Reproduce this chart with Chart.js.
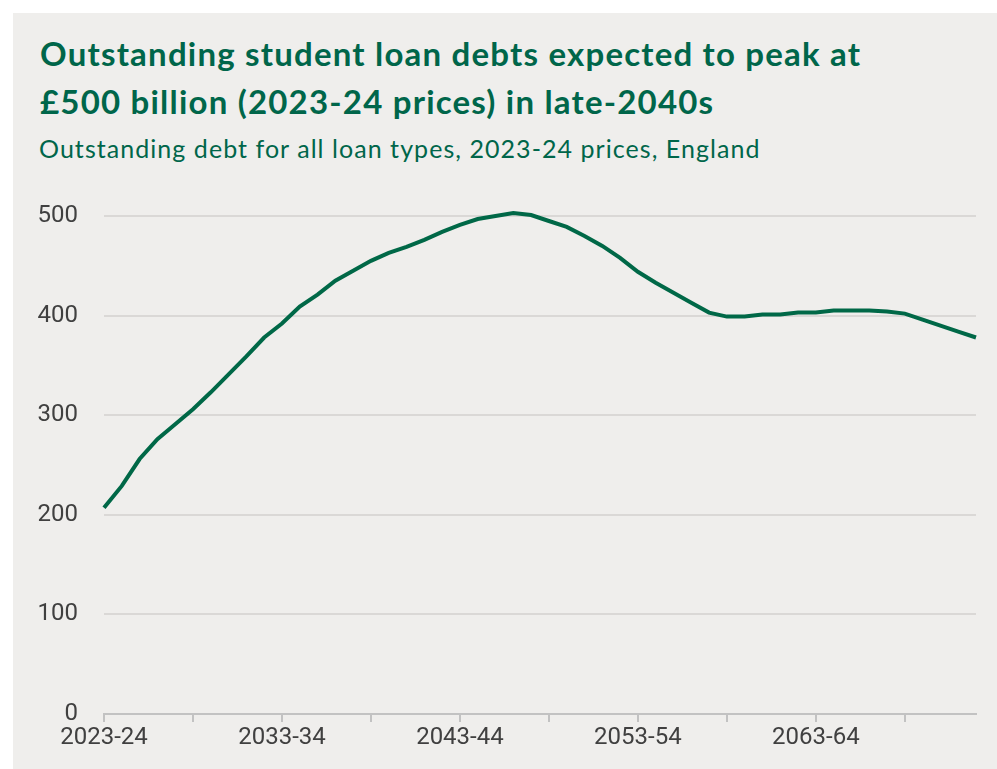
<!DOCTYPE html>
<html>
<head>
<meta charset="utf-8">
<script src="https://cdn.jsdelivr.net/npm/chart.js@4.4.1/dist/chart.umd.min.js"></script>
<style>
  html, body { margin: 0; padding: 0; background: #ffffff; }
  body { width: 997px; height: 769px; position: relative; overflow: hidden; }
  #panel { position: absolute; left: 13px; top: 13px; width: 984px; height: 756px; background: #efeeec; }
  #title { position: absolute; left: 40px; top: 29px; margin: 0; font-family: Lato, sans-serif; font-weight: 700;
           font-size: 33px; letter-spacing: 1.2px; line-height: 48px; color: #00664a; white-space: nowrap; }
  #subtitle { position: absolute; left: 39px; top: 132px; margin: 0; font-family: Lato, sans-serif; font-weight: 400;
              font-size: 25px; letter-spacing: 1.05px; line-height: 32px; color: #00664a; white-space: nowrap; }
  #wrap { position: absolute; left: 13px; top: 13px; width: 984px; height: 756px; }
</style>
</head>
<body>
<div id="panel"></div>
<h1 id="title">Outstanding student loan debts expected to peak at<br>£500 billion (2023-24 prices) in late-2040s</h1>
<p id="subtitle">Outstanding debt for all loan types, 2023-24 prices, England</p>
<div id="wrap"><canvas id="chart"></canvas></div>
<script>
// Financial years 2023-24 .. 2072-73
const years = [
  '2023-24','2024-25','2025-26','2026-27','2027-28','2028-29','2029-30','2030-31','2031-32','2032-33',
  '2033-34','2034-35','2035-36','2036-37','2037-38','2038-39','2039-40','2040-41','2041-42','2042-43',
  '2043-44','2044-45','2045-46','2046-47','2047-48','2048-49','2049-50','2050-51','2051-52','2052-53',
  '2053-54','2054-55','2055-56','2056-57','2057-58','2058-59','2059-60','2060-61','2061-62','2062-63',
  '2063-64','2064-65','2065-66','2066-67','2067-68','2068-69','2069-70','2070-71','2071-72','2072-73'
];

// Outstanding debt, £ billion (2023-24 prices)
const debt = [
  207, 229, 256, 276, 291, 306, 323, 341, 359, 378,
  392, 409, 421, 435, 445, 455, 463, 469, 476, 484,
  491, 497, 500, 503, 501, 495, 489, 480, 470, 458,
  444, 433, 423, 413, 403, 399, 399, 401, 401, 403,
  403, 405, 405, 405, 404, 402, 396, 390, 384, 378
];

// Labelled x ticks (every ten years) and tick marks (every five)
const labelledYears = ['2023-24','2033-34','2043-44','2053-54','2063-64'];
const yTicks = [0, 100, 200, 300, 400, 500];

const green = '#006847';
const textGrey = '#404040';
const tickFont = { family: 'Roboto, sans-serif', size: 24 };

new Chart(document.getElementById('chart'), {
  type: 'line',
  data: {
    labels: years,
    datasets: [{
      data: debt,
      borderColor: green,
      borderWidth: 4,
      pointRadius: 0,
      tension: 0,
      fill: false,
      clip: false
    }]
  },
  options: {
    responsive: true,
    maintainAspectRatio: false,
    animation: false,
    events: [],
    layout: { padding: { left: 0, right: 21, top: 203, bottom: 0 } },
    plugins: { legend: { display: false }, tooltip: { enabled: false } },
    scales: {
      x: {
        type: 'category',
        offset: false,
        afterFit: (s) => { s.height = 55; },
        border: { display: true, color: '#c2c2c2', width: 2 },
        grid: {
          drawOnChartArea: false,
          drawTicks: true,
          tickLength: 8,
          lineWidth: 2,
          color: (ctx) => (ctx.index % 5 === 0 && ctx.index < years.length - 1) ? '#c2c2c2' : 'rgba(0,0,0,0)'
        },
        ticks: {
          autoSkip: false,
          maxRotation: 0,
          minRotation: 0,
          padding: 2,
          color: textGrey,
          font: tickFont,
          callback: function (value, index) {
            const lab = years[index];
            return labelledYears.includes(lab) ? lab : '';
          }
        }
      },
      y: {
        min: 0,
        max: 500,
        afterFit: (s) => { s.width = 91; },
        afterBuildTicks: (s) => { s.ticks = yTicks.map(v => ({ value: v })); },
        border: { display: false },
        grid: {
          drawTicks: false,
          lineWidth: 2,
          color: (ctx) => ctx.tick && ctx.tick.value === 0 ? 'rgba(0,0,0,0)' : '#dad8d6'
        },
        ticks: {
          padding: 26,
          color: textGrey,
          font: tickFont
        }
      }
    }
  }
});
</script>
</body>
</html>
